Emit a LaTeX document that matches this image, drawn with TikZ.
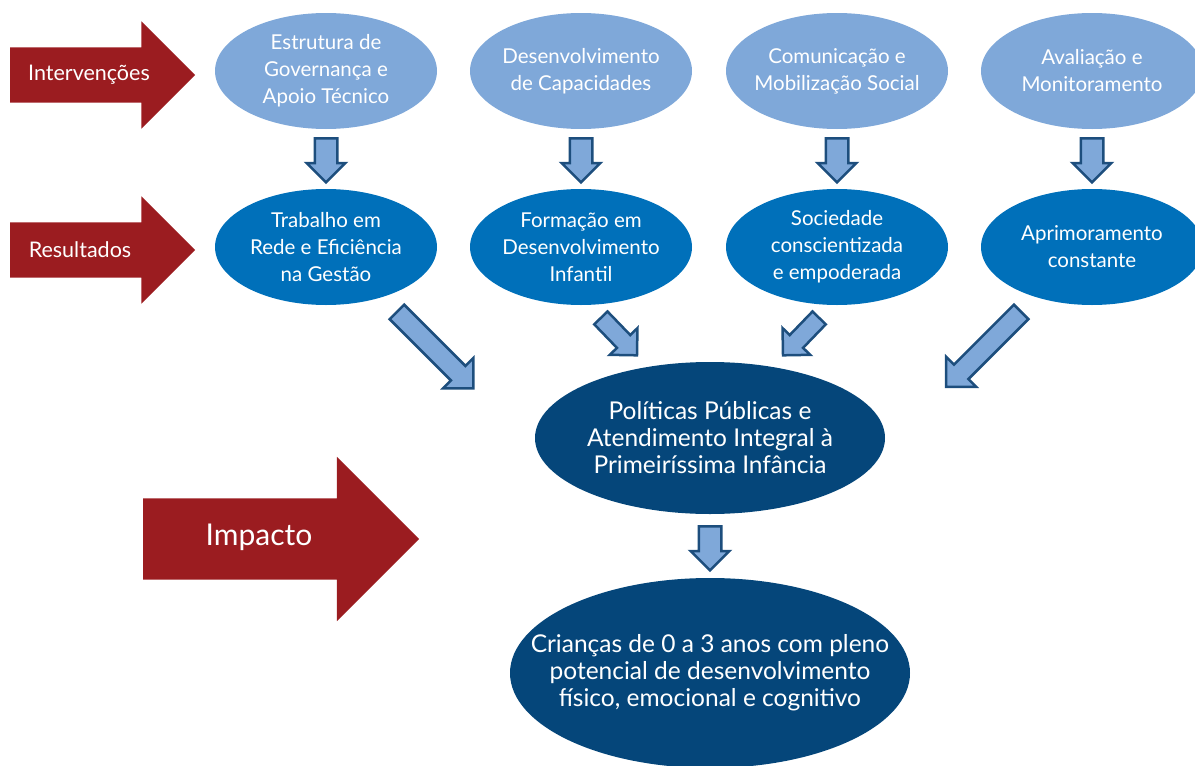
\documentclass[tikz,border=0pt]{standalone}
\usepackage{fontspec}
\setmainfont{Lato}
\usetikzlibrary{shapes.geometric,shapes.arrows,calc}

\definecolor{impred}{HTML}{9B1C20}
\definecolor{lightblue}{HTML}{7FA8D9}
\definecolor{midblue}{HTML}{0070BA}
\definecolor{darkblue}{HTML}{05467A}
\definecolor{edgeblue}{HTML}{1D4E7D}

\tikzset{
	bubble/.style={ellipse, inner ysep=0pt, inner xsep=-6pt, text=white, align=center, font=\fontsize{20.5}{27}\selectfont},
	interv/.style={bubble, fill=lightblue, minimum width=222pt, minimum height=116pt},
	result/.style={bubble, fill=midblue, minimum width=222pt, minimum height=116pt},
	impact/.style={bubble, fill=darkblue, font=\fontsize{24.5}{27}\selectfont},
	bluearrow/.style={single arrow, draw=edgeblue, fill=lightblue, line width=2.5pt, anchor=tail, inner xsep=0pt},
	redarrow/.style={single arrow, fill=impred, anchor=tail, inner xsep=0pt},
	arrowtext/.style={text=white, inner sep=0pt, font=\fontsize{21.5}{24}\selectfont}
}

\begin{document}
\begin{tikzpicture}[x=1pt, y=-1pt]
		\useasboundingbox (0, 0) rectangle (1195, 766);
		% intervencoes
		\node[interv] (gov) at (326, 71) {Estrutura de\\Governança e\\Apoio Técnico};
		\node[interv] (cap) at (581, 71) {Desenvolvimento\\de Capacidades};
		\node[interv] (com) at (837, 71) {Comunicação e\\Mobilização Social};
		\node[interv] (ava) at (1092, 71) {Avaliação e\\Monitoramento};
		% resultados
		\node[result] (rede) at (326, 247) {Trabalho em\\Rede e Eficiência\\na Gestão};
		\node[result] (form) at (581, 247) {Formação em\\Desenvolvimento\\Infantil};
		\node[result] (soc) at (837, 247) {Sociedade\\conscientizada\\e empoderada};
		\node[result] (apr) at (1092, 247) {Aprimoramento\\constante};
		% impacto
		\node[impact, minimum width=350pt, minimum height=152pt, inner xsep=0pt] (pol) at (710, 438) {Políticas Públicas e\\Atendimento Integral à\\Primeiríssima Infância};
		\node[impact, minimum width=400pt, minimum height=190pt, inner xsep=-39pt] (cri) at (710, 673) {Crianças de 0 a 3 anos com pleno\\potencial de desenvolvimento\\físico, emocional e cognitivo};

		% setas vermelhas
		\node[redarrow, minimum height=185pt, inner ysep=27.5pt, single arrow head extend=26pt] (intarrow) at (10, 75) {};
		\node[redarrow, minimum height=185pt, inner ysep=27.5pt, single arrow head extend=26pt] (resarrow) at (10, 250) {};
		\node[redarrow, minimum height=276pt, inner ysep=40.5pt, single arrow head extend=41.5pt] (imparrow) at (143, 539) {};
		\node[arrowtext] (inttext) at (89, 75) {Intervenções};
		\node[arrowtext] (restext) at (80, 250) {Resultados};
		\node[arrowtext, font=\fontsize{30}{36}\selectfont] (imptext) at (259, 537) {Impacto};

		% setas entre as bolhas
		\foreach \a/\b in {gov/rede, cap/form, com/soc, ava/apr}
			\node[bluearrow, rotate=-90, minimum height=44pt, inner ysep=10pt, single arrow head extend=8pt] (\a-\b) at ($(\a.south)+(0, 8)$) {};
		\node[bluearrow, rotate=-45, minimum height=108pt, inner ysep=9pt, single arrow head extend=11pt] (rede-pol) at (396, 311) {};
		\node[bluearrow, rotate=-46, minimum height=52pt, inner ysep=8pt, single arrow head extend=10pt] (form-pol) at (600, 317) {};
		\node[bluearrow, rotate=-134, minimum height=52pt, inner ysep=8pt, single arrow head extend=10pt] (soc-pol) at (820, 317) {};
		\node[bluearrow, rotate=-135, minimum height=106pt, inner ysep=9pt, single arrow head extend=11pt] (apr-pol) at (1022, 311) {};
		\node[bluearrow, rotate=-90, minimum height=44pt, inner ysep=10pt, single arrow head extend=8pt] (pol-cri) at ($(pol.south)+(0, 11)$) {};
		\end{tikzpicture}
\end{document}
